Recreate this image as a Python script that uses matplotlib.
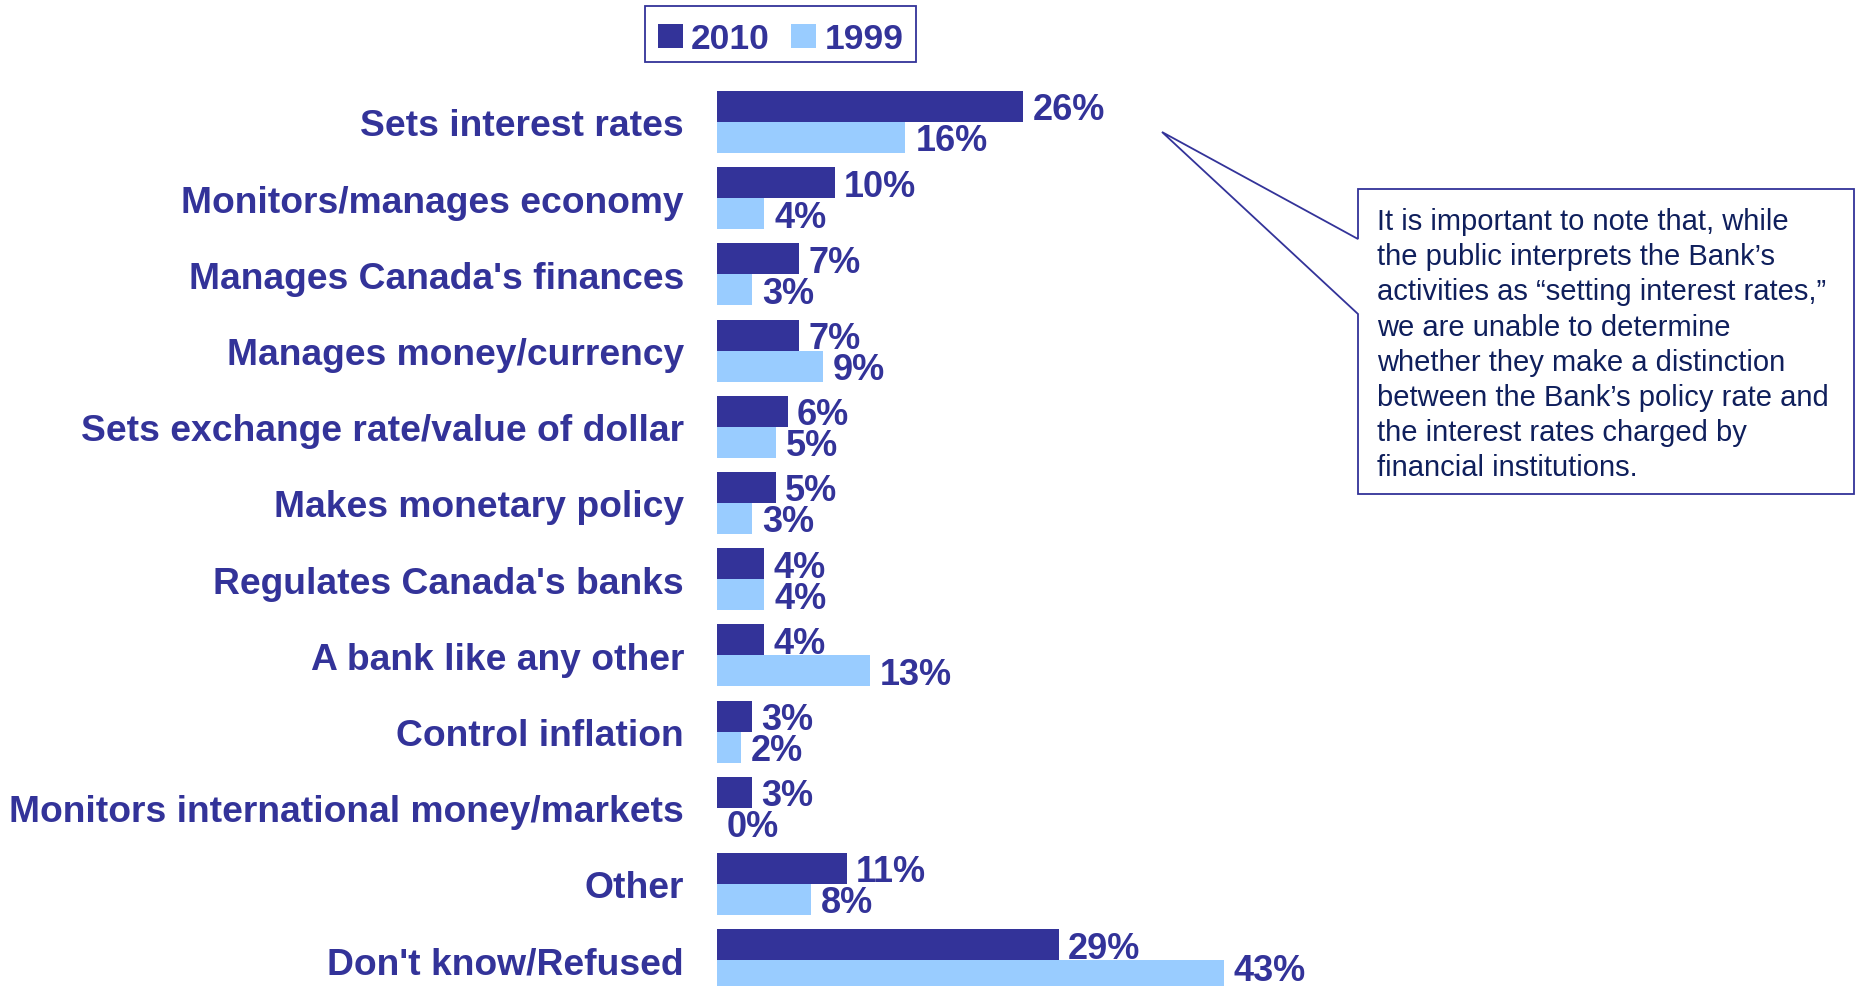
import matplotlib
matplotlib.use("Agg")
import matplotlib.pyplot as plt
from matplotlib.patches import Rectangle, Polygon
import numpy as np

plt.rcParams['font.family'] = ['Liberation Sans', 'DejaVu Sans']

categories = [
    "Sets interest rates",
    "Monitors/manages economy",
    "Manages Canada's finances",
    "Manages money/currency",
    "Sets exchange rate/value of dollar",
    "Makes monetary policy",
    "Regulates Canada's banks",
    "A bank like any other",
    "Control inflation",
    "Monitors international money/markets",
    "Other",
    "Don't know/Refused",
]
values_2010 = [26, 10, 7, 7, 6, 5, 4, 4, 3, 3, 11, 29]
values_1999 = [16, 4, 3, 9, 5, 3, 4, 13, 2, 0, 8, 43]
series_names = ["2010", "1999"]

note_lines = [
    "It is important to note that, while",
    "the public interprets the Bank\u2019s",
    "activities as \u201csetting interest rates,\u201d",
    "we are unable to determine",
    "whether they make a distinction",
    "between the Bank\u2019s policy rate and",
    "the interest rates charged by",
    "financial institutions.",
]

DARK = '#333399'
LIGHT = '#99CCFF'
NOTE_TEXT = '#0F1F5C'

W, H = 1860, 987
fig = plt.figure(figsize=(W / 100, H / 100), dpi=100)
fig.patch.set_facecolor('white')


def fx(px):
    return px / W


def fy(py):
    return 1 - py / H


# Plot area: bars start at x=717px, 11.78 px per percentage point
left_px = 717
px_per_pct = 11.78
ax = fig.add_axes([fx(left_px), 0, 1 - fx(left_px), 1])
ax.set_xlim(0, (W - left_px) / px_per_pct)
row_px = 76.2
first_px = 123
ax.set_ylim((H - first_px) / row_px, -first_px / row_px)
ax.axis('off')

y = np.arange(len(categories))
bh = 0.407
ax.barh(y - bh / 2, values_2010, height=bh, color=DARK, edgecolor='none')
ax.barh(y + bh / 2, values_1999, height=bh, color=LIGHT, edgecolor='none')

fs_val = 26
cap = 0.716 * fs_val * 100 / 72
bottom_limit = H - 6  # keep value labels inside the canvas


def value_label(value, ypos, dx):
    # baseline placed so the digits are centred on the bar
    base_px = H - ax.transData.transform((value, ypos))[1] + cap / 2
    dy = -cap / 2
    if base_px > bottom_limit:
        dy += base_px - bottom_limit
    ax.annotate(f"{value}%", xy=(value, ypos), xytext=(dx, dy),
                textcoords='offset pixels', ha='left', va='baseline',
                fontsize=fs_val, fontweight='bold', color=DARK,
                annotation_clip=False)


for i in range(len(categories)):
    value_label(values_2010[i], y[i] - bh / 2, 9)
    value_label(values_1999[i], y[i] + bh / 2, 10)

fs_cat = 26.8
cap_c = 0.716 * fs_cat * 100 / 72
for i, name in enumerate(categories):
    ax.annotate(name, xy=(0, y[i]), xytext=(684 - left_px, -cap_c / 2),
                textcoords='offset pixels', ha='right', va='baseline',
                fontsize=fs_cat, fontweight='bold', color=DARK,
                annotation_clip=False)

# Legend box
fig.add_artist(Rectangle((fx(645), fy(63)), fx(916) - fx(645), fy(7) - fy(63),
                         transform=fig.transFigure, facecolor='white',
                         edgecolor=DARK, linewidth=1.3))
for sq_x, txt_x, col, name in [(658, 691, DARK, series_names[0]),
                               (791, 825, LIGHT, series_names[1])]:
    fig.add_artist(Rectangle((fx(sq_x), fy(49)), fx(25), fy(25) - fy(49),
                             transform=fig.transFigure, facecolor=col,
                             edgecolor='none'))
    fig.text(fx(txt_x), fy(49), name, ha='left', va='baseline',
             fontsize=25.5, fontweight='bold', color=DARK)

# Callout box with pointer toward the first row
pts = [(1162, 133), (1358, 240), (1358, 190), (1854, 190), (1854, 495),
       (1358, 495), (1358, 315), (1162, 133)]
fig.add_artist(Polygon([(fx(a), fy(b)) for a, b in pts], closed=True,
                       transform=fig.transFigure, facecolor='white',
                       edgecolor=DARK, linewidth=1.3, joinstyle='miter'))
for k, line in enumerate(note_lines):
    fig.text(fx(1377), fy(230 + 35.2 * k), line, ha='left', va='baseline',
             fontsize=21, color=NOTE_TEXT)

fig.savefig('out.png', dpi=100, facecolor='white')
